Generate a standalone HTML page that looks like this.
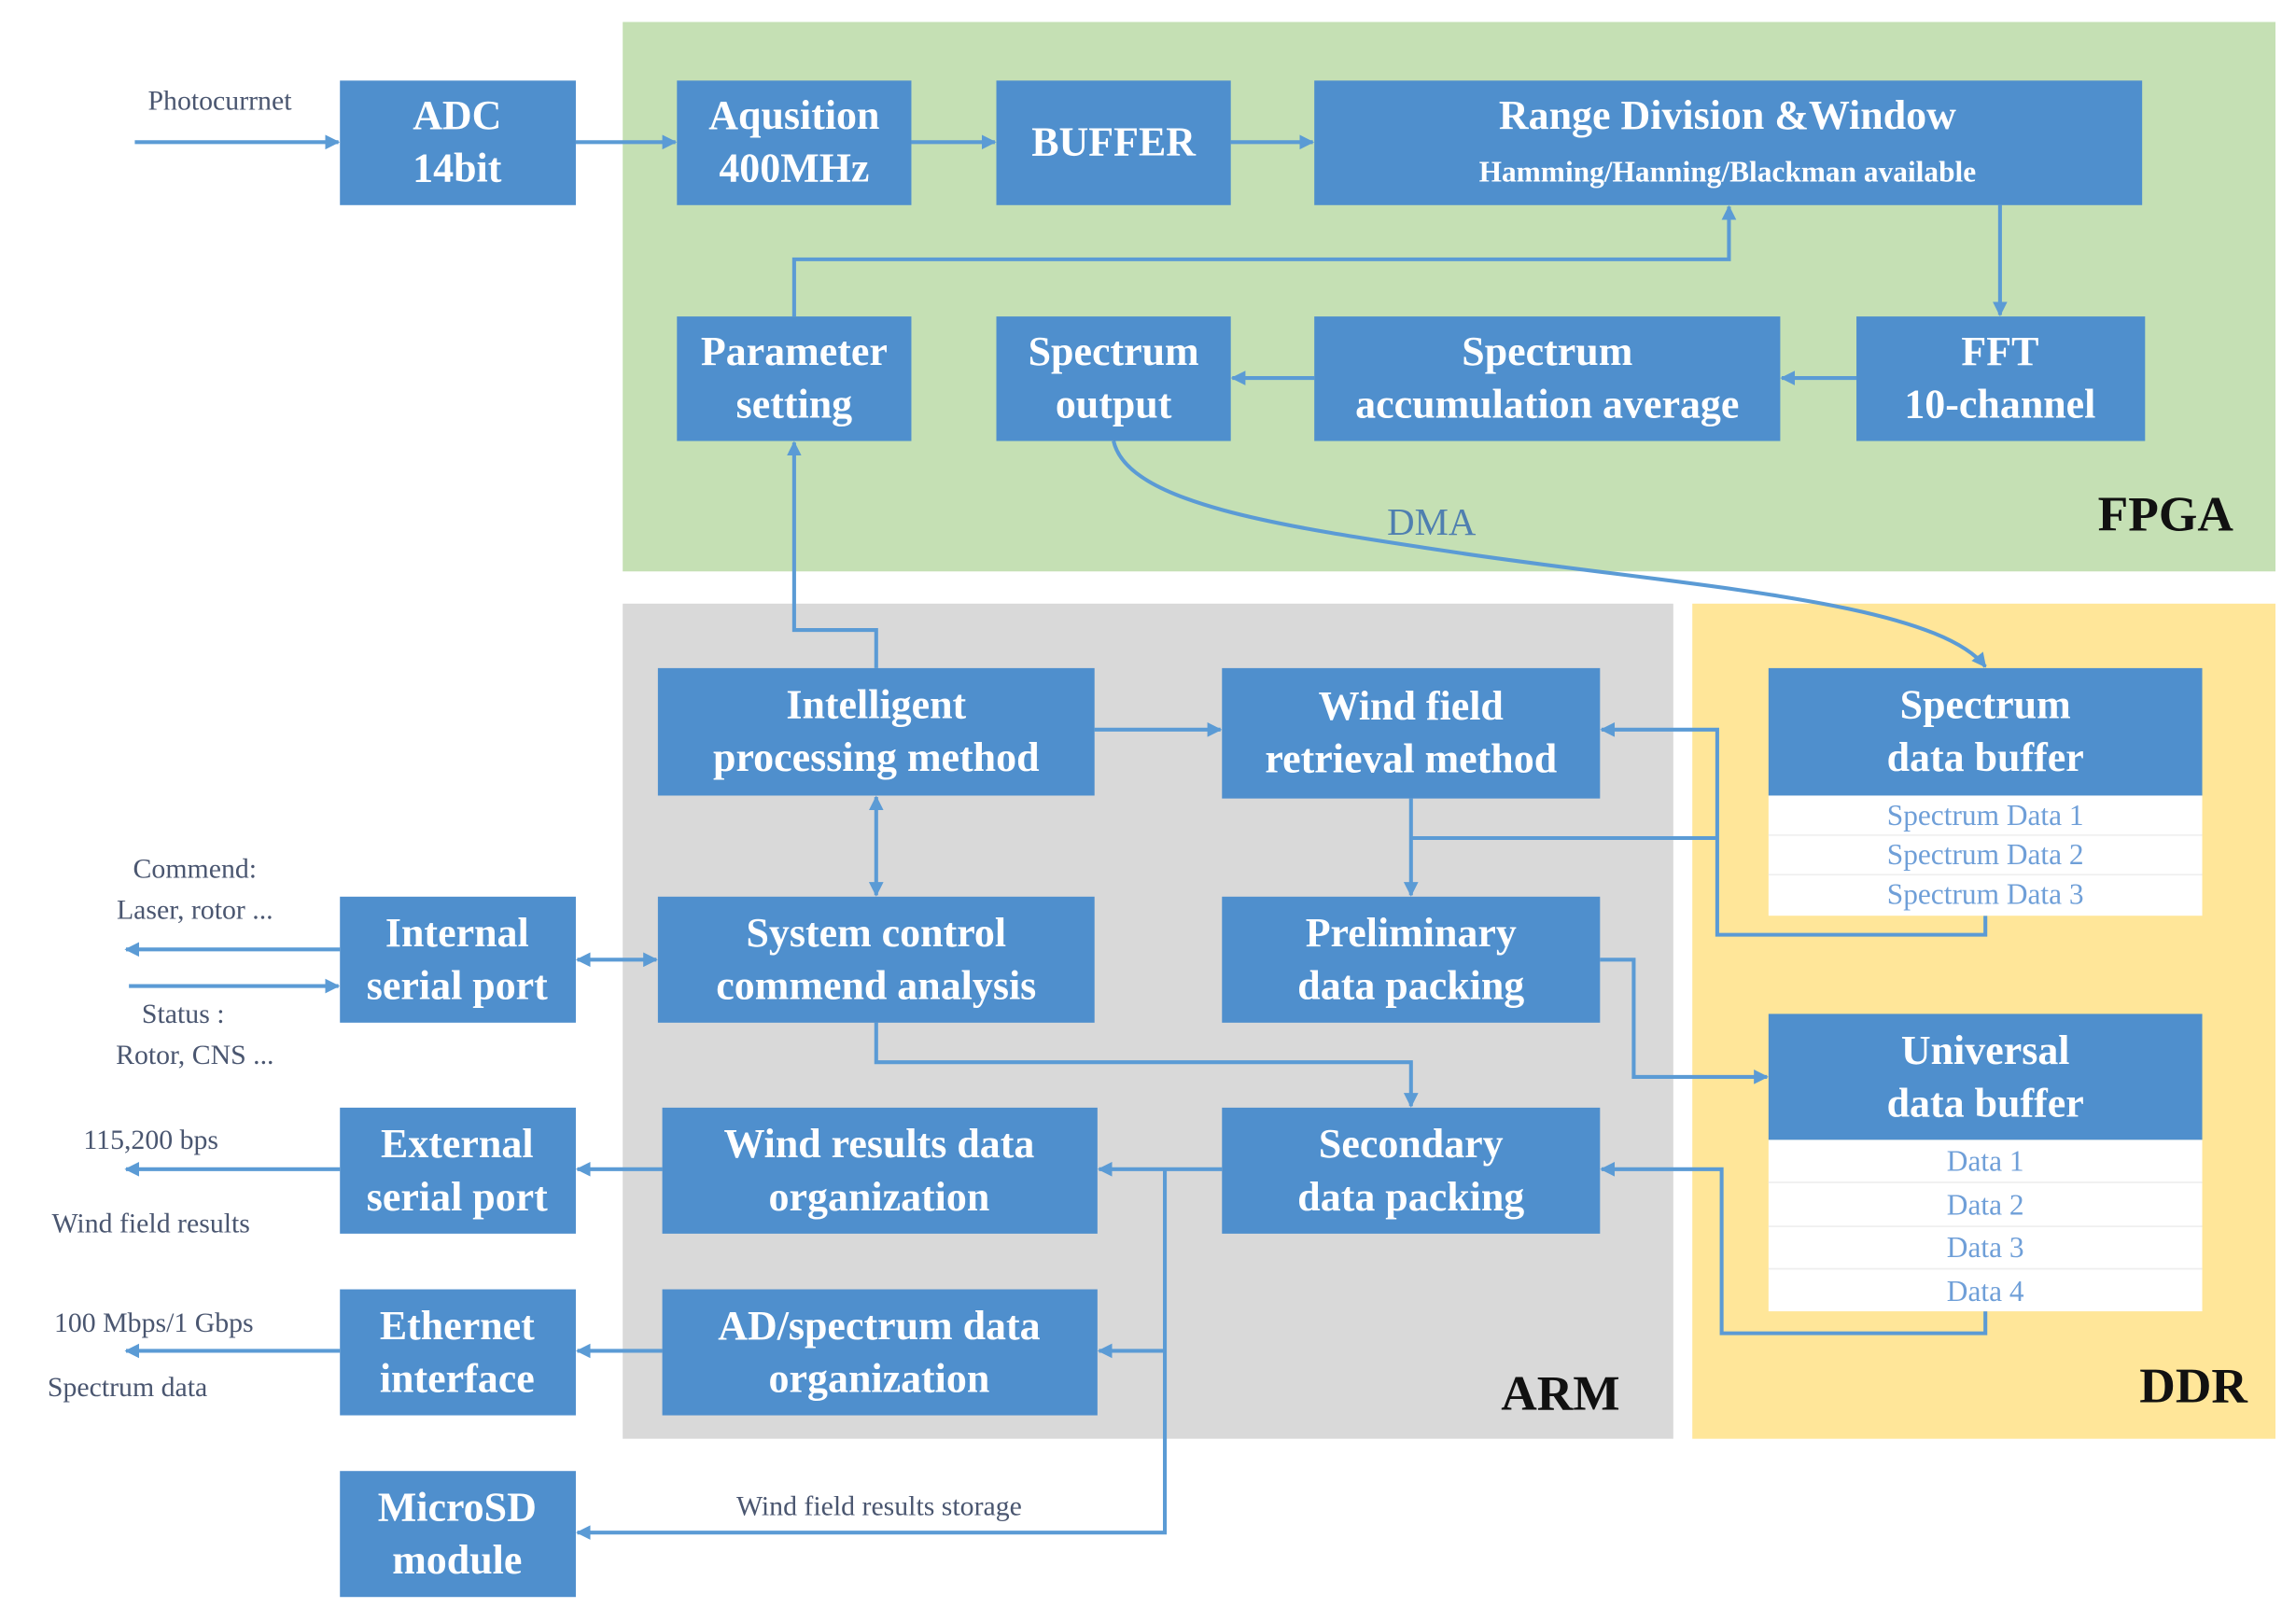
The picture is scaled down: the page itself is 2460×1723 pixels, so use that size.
<!DOCTYPE html>
<html><head><meta charset="utf-8"><style>
html,body{margin:0;padding:0;background:#fff}
svg{display:block}
.b{fill:#4f8fcd}
.t{font-family:"Liberation Serif",serif;font-weight:bold;fill:#fff;font-size:28px;text-anchor:middle}
.l{stroke:#5b9bd5;stroke-width:2.6;fill:none}
.s{font-family:"Liberation Serif",serif;font-size:19px;fill:#4a5670;text-anchor:middle}
.r{font-family:"Liberation Serif",serif;font-size:20px;fill:#6f9fd8;text-anchor:middle}
.big{font-family:"Liberation Serif",serif;font-weight:bold;font-size:34px;fill:#111;text-anchor:middle}
</style></head><body>
<svg width="2460" height="1723" viewBox="0 0 1567 1097.5" preserveAspectRatio="none" xmlns="http://www.w3.org/2000/svg">
<defs>
<marker id="a" markerWidth="10" markerHeight="10" refX="9" refY="5" orient="auto-start-reverse" markerUnits="userSpaceOnUse">
<path d="M0,0 L10,5 L0,10 Z" fill="#5b9bd5"/></marker>
</defs>
<rect width="1567" height="1098" fill="#fff"/>
<rect x="425" y="15" width="1128" height="375" fill="#c5e0b4"/>
<rect x="425" y="412" width="717" height="570" fill="#d9d9d9"/>
<rect x="1155" y="412" width="398" height="570" fill="#ffe699"/>

<g class="l">
<path d="M92,97 H231" marker-end="url(#a)"/>
<path d="M393,97 H461" marker-end="url(#a)"/>
<path d="M622,97 H679" marker-end="url(#a)"/>
<path d="M840,97 H896" marker-end="url(#a)"/>
<path d="M1365,140 V215" marker-end="url(#a)"/>
<path d="M1267,258 H1216" marker-end="url(#a)"/>
<path d="M897,258 H841" marker-end="url(#a)"/>
<path d="M542,216 V177 H1180 V141" marker-end="url(#a)"/>
<path d="M598,456 V430 H542 V302" marker-end="url(#a)"/>
<path d="M760,301 C770,345 880,360 1000,378 C1150,400 1320,410 1355,455" marker-end="url(#a)"/>
<path d="M747,498 H833" marker-end="url(#a)"/>
<path d="M598,544 V611" marker-start="url(#a)" marker-end="url(#a)"/>
<path d="M1355,625 V638 H1172 V498 H1093" marker-end="url(#a)"/>
<path d="M963,545 V611" marker-end="url(#a)"/>
<path d="M963,572 H1172"/>
<path d="M1092,655 H1115 V735 H1206" marker-end="url(#a)"/>
<path d="M598,698 V725 H963 V755" marker-end="url(#a)"/>
<path d="M1355,895 V910 H1175 V798 H1093" marker-end="url(#a)"/>
<path d="M834,798 H750" marker-end="url(#a)"/>
<path d="M795,798 V1046 H394" marker-end="url(#a)"/>
<path d="M795,922 H750" marker-end="url(#a)"/>
<path d="M394,655 H448" marker-start="url(#a)" marker-end="url(#a)"/>
<path d="M232,648 H86" marker-end="url(#a)"/>
<path d="M88,673 H231" marker-end="url(#a)"/>
<path d="M452,798 H394" marker-end="url(#a)"/>
<path d="M232,798 H86" marker-end="url(#a)"/>
<path d="M452,922 H394" marker-end="url(#a)"/>
<path d="M232,922 H86" marker-end="url(#a)"/>
</g>

<rect class="b" x="232" y="55" width="161" height="85"/>
<text class="t" x="312" y="88">ADC</text><text class="t" x="312" y="124">14bit</text>
<rect class="b" x="462" y="55" width="160" height="85"/>
<text class="t" x="542" y="88">Aqusition</text><text class="t" x="542" y="124">400MHz</text>
<rect class="b" x="680" y="55" width="160" height="85"/>
<text class="t" x="760" y="106">BUFFER</text>
<rect class="b" x="897" y="55" width="565" height="85"/>
<text class="t" x="1179" y="88">Range Division &amp;Window</text>
<text class="t" x="1179" y="124" style="font-size:20px">Hamming/Hanning/Blackman available</text>
<rect class="b" x="462" y="216" width="160" height="85"/>
<text class="t" x="542" y="249">Parameter</text><text class="t" x="542" y="285">setting</text>
<rect class="b" x="680" y="216" width="160" height="85"/>
<text class="t" x="760" y="249">Spectrum</text><text class="t" x="760" y="285">output</text>
<rect class="b" x="897" y="216" width="318" height="85"/>
<text class="t" x="1056" y="249">Spectrum</text><text class="t" x="1056" y="285">accumulation average</text>
<rect class="b" x="1267" y="216" width="197" height="85"/>
<text class="t" x="1365" y="249">FFT</text><text class="t" x="1365" y="285">10-channel</text>

<rect class="b" x="449" y="456" width="298" height="87"/>
<text class="t" x="598" y="490">Intelligent</text><text class="t" x="598" y="526">processing method</text>
<rect class="b" x="834" y="456" width="258" height="89"/>
<text class="t" x="963" y="491">Wind field</text><text class="t" x="963" y="527">retrieval method</text>
<rect class="b" x="449" y="612" width="298" height="86"/>
<text class="t" x="598" y="646">System control</text><text class="t" x="598" y="682">commend analysis</text>
<rect class="b" x="834" y="612" width="258" height="86"/>
<text class="t" x="963" y="646">Preliminary</text><text class="t" x="963" y="682">data packing</text>
<rect class="b" x="452" y="756" width="297" height="86"/>
<text class="t" x="600" y="790">Wind results data</text><text class="t" x="600" y="826">organization</text>
<rect class="b" x="834" y="756" width="258" height="86"/>
<text class="t" x="963" y="790">Secondary</text><text class="t" x="963" y="826">data packing</text>
<rect class="b" x="452" y="880" width="297" height="86"/>
<text class="t" x="600" y="914">AD/spectrum data</text><text class="t" x="600" y="950">organization</text>
<rect class="b" x="232" y="612" width="161" height="86"/>
<text class="t" x="312" y="646">Internal</text><text class="t" x="312" y="682">serial port</text>
<rect class="b" x="232" y="756" width="161" height="86"/>
<text class="t" x="312" y="790">External</text><text class="t" x="312" y="826">serial port</text>
<rect class="b" x="232" y="880" width="161" height="86"/>
<text class="t" x="312" y="914">Ethernet</text><text class="t" x="312" y="950">interface</text>
<rect class="b" x="232" y="1004" width="161" height="86"/>
<text class="t" x="312" y="1038">MicroSD</text><text class="t" x="312" y="1074">module</text>

<rect class="b" x="1207" y="456" width="296" height="87"/>
<text class="t" x="1355" y="490">Spectrum</text><text class="t" x="1355" y="526">data buffer</text>
<rect x="1207" y="543" width="296" height="82" fill="#fff"/>
<path d="M1207,570 H1503 M1207,597 H1503" stroke="#eee" stroke-width="1"/>
<text class="r" x="1355" y="563">Spectrum Data 1</text>
<text class="r" x="1355" y="590">Spectrum Data 2</text>
<text class="r" x="1355" y="617">Spectrum Data 3</text>
<rect class="b" x="1207" y="692" width="296" height="86"/>
<text class="t" x="1355" y="726">Universal</text><text class="t" x="1355" y="762">data buffer</text>
<rect x="1207" y="778" width="296" height="117" fill="#fff"/>
<path d="M1207,807 H1503 M1207,837 H1503 M1207,866 H1503" stroke="#eee" stroke-width="1"/>
<text class="r" x="1355" y="799">Data 1</text>
<text class="r" x="1355" y="829">Data 2</text>
<text class="r" x="1355" y="858">Data 3</text>
<text class="r" x="1355" y="888">Data 4</text>

<text class="s" x="150" y="75">Photocurrnet</text>
<text class="s" x="133" y="599">Commend:</text>
<text class="s" x="133" y="627">Laser, rotor ...</text>
<text class="s" x="125" y="698">Status :</text>
<text class="s" x="133" y="726">Rotor, CNS ...</text>
<text class="s" x="103" y="784">115,200 bps</text>
<text class="s" x="103" y="841">Wind field results</text>
<text class="s" x="105" y="909">100 Mbps/1 Gbps</text>
<text class="s" x="87" y="953">Spectrum data</text>
<text class="s" x="600" y="1034">Wind field results storage</text>
<text x="977" y="365" style="font-family:'Liberation Serif',serif;font-size:26px;fill:#4f7fb0;text-anchor:middle">DMA</text>
<text class="big" x="1478" y="362">FPGA</text>
<text class="big" x="1065" y="962">ARM</text>
<text class="big" x="1497" y="957">DDR</text>
</svg>
</body></html>
